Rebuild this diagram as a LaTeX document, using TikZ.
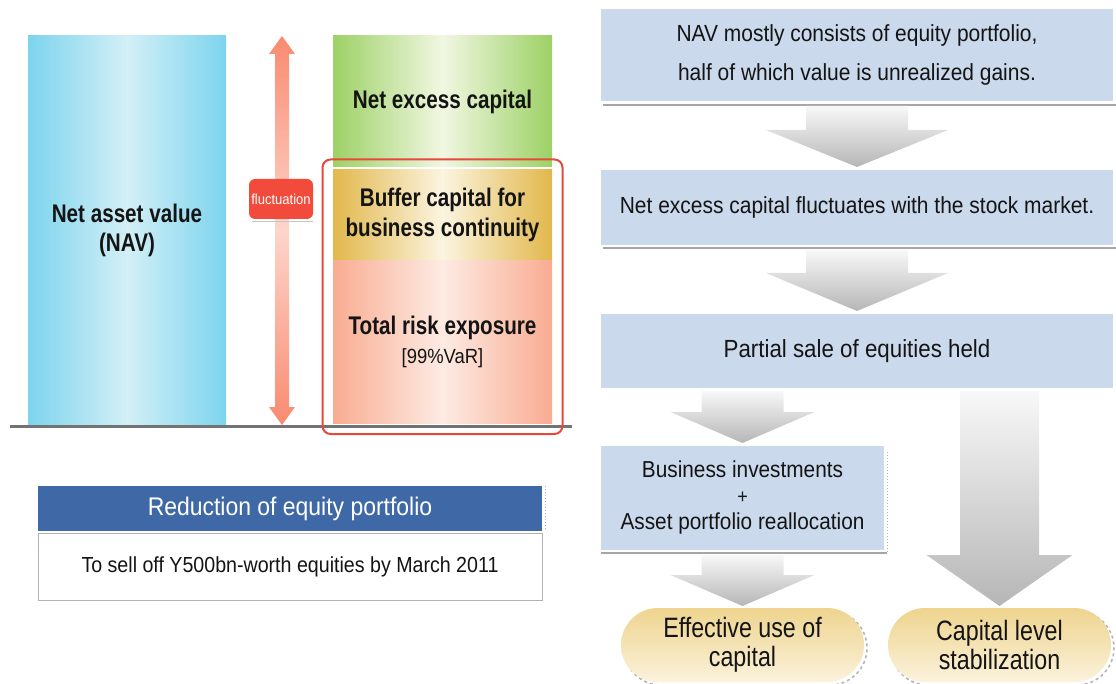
\documentclass[tikz,border=0pt]{standalone}
\usepackage{fontspec}
\setmainfont{Liberation Sans}[FakeStretch=0.9, BoldFeatures={FakeStretch=0.81}]
\newfontfamily\pillfont{Liberation Sans}[FakeStretch=0.83]
\usetikzlibrary{calc,fit,positioning,shapes.misc}

\definecolor{ink}{HTML}{141414}
\definecolor{navedge}{HTML}{7DD4EE}
\definecolor{navmid}{HTML}{D3EFF6}
\definecolor{greenedge}{HTML}{9DD166}
\definecolor{greenmid}{HTML}{F1F7E2}
\definecolor{goldedge}{HTML}{E2B84C}
\definecolor{goldmid}{HTML}{FBF4DF}
\definecolor{riskedge}{HTML}{F9AC92}
\definecolor{riskmid}{HTML}{FDEBE3}
\definecolor{framered}{HTML}{E8483A}
\definecolor{flred}{HTML}{F98A70}
\definecolor{fllight}{HTML}{FDD5CA}
\definecolor{tagred}{HTML}{F24B3B}
\definecolor{headblue}{HTML}{3F69A6}
\definecolor{flowblue}{HTML}{CBD9EC}
\definecolor{arrowtop}{HTML}{F8F8F8}
\definecolor{arrowbot}{HTML}{B6B6B6}
\definecolor{pilltop}{HTML}{EED48E}
\definecolor{pillbot}{HTML}{FBF2DC}

% block arrow pointing down: [opts]{top}{tip}{shaft half}{head half}{head length}
\newcommand{\flowarrow}[6][]{%
  \path[flow_arrow,#1] let \p1=(#2), \p2=(#3) in
    (\x1-#4,\y1) -- (\x1+#4,\y1) -- (\x1+#4,\y2+#6) -- (\x1+#5,\y2+#6)
    -- (\x1,\y2) -- (\x1-#5,\y2+#6) -- (\x1-#4,\y2+#6) -- cycle;}

\begin{document}
\begin{tikzpicture}[
    x=1pt, y=-1pt,
    every node/.style={inner sep=0pt, outer sep=0pt, text=ink},
    bar_col/.style={minimum width=219pt, align=center,
        font=\fontsize{25.5}{29.5}\selectfont\bfseries},
    risk_frame/.style={draw=framered, line width=2pt, rounded corners=8pt},
    base_line/.style={draw=gray!90!black, line width=3pt},
    flow_box/.style={fill=flowblue, minimum width=512pt, align=center,
        font=\fontsize{23.3}{39}\selectfont},
    pill_node/.style={rounded rectangle, minimum height=74pt, align=center,
        top color=pilltop, bottom color=pillbot,
        font=\pillfont\fontsize{28}{29}\selectfont},
    pill_shadow/.style={rounded rectangle, minimum height=74pt,
        draw=gray!60, dashed, line width=1.5pt},
    flow_arrow/.style={top color=arrowtop, bottom color=arrowbot},
    shadow_line/.style={draw=gray!70, line width=1.5pt}
]
\useasboundingbox (0,0) rectangle (1116,684);

% --- LEFT: capital bars ---
\node[bar_col, minimum width=198pt, minimum height=389pt,
      left color=navedge, right color=navedge, middle color=navmid]
      (nav) at (127,230.5) {Net asset value\\(NAV)};
\node[bar_col, minimum height=131pt,
      left color=greenedge, right color=greenedge, middle color=greenmid]
      (excess) at (442.5,101.5) {Net excess capital};
\node[bar_col, minimum height=90pt,
      left color=goldedge, right color=goldedge, middle color=goldmid]
      (buffer) at (442.5,215) {Buffer capital for\\business continuity};
\node[bar_col, minimum height=163pt,
      left color=riskedge, right color=riskedge, middle color=riskmid]
      (risk) at (442.5,342) {Total risk exposure\\{\fontsize{20.5}{22}\selectfont\mdseries [99\%VaR]}};

\draw[base_line] (10,426) -- (572,426);
\node[risk_frame, fit=(buffer)(risk), inner sep=10.5pt] (frame) {};

% fluctuation arrow
\coordinate (fl_top) at (282,36);
\coordinate (fl_bot) at (282,425);
\path[top color=flred, bottom color=flred, middle color=fllight]
  let \p1=(fl_top), \p2=(fl_bot) in
  (\x1,\y1) -- (\x1+13pt,\y1-18pt) -- (\x1+7pt,\y1-18pt) -- (\x1+7pt,\y2+18pt)
  -- (\x1+13pt,\y2+18pt) -- (\x1,\y2) -- (\x1-13pt,\y2+18pt) -- (\x1-7pt,\y2+18pt)
  -- (\x1-7pt,\y1-18pt) -- (\x1-13pt,\y1-18pt) -- cycle;
\node[fill=tagred, rounded corners=6pt, minimum width=64pt, minimum height=40pt,
      text=white, font=\fontsize{14.5}{16}\selectfont] (fluct) at (281,199) {fluctuation};
\draw[gray!45, line width=1pt] ([xshift=3pt,yshift=-3pt]fluct.south west) -- ([yshift=-3pt]fluct.south east);

% --- LEFT: reduction plan ---
\node[fill=headblue, minimum width=504pt, minimum height=45pt, text=white,
      font=\fontsize{25.5}{28}\selectfont] (reduce) at (290,508.5) {Reduction of equity portfolio};
\node[draw=gray!60, line width=1pt, fill=white, minimum width=504pt, minimum height=67pt,
      font=\fontsize{21.8}{25}\selectfont, below=2pt of reduce] (sell)
      {To sell off Y500bn-worth equities by March 2011};
\draw[gray!60, dotted, line width=1pt] ([xshift=3pt]reduce.north east) -- ([xshift=3pt]reduce.south east);

% --- RIGHT: flow ---
\node[flow_box, minimum height=92pt] (nav_box) at (857,55)
      {NAV mostly consists of equity portfolio,\\half of which value is unrealized gains.};
\node[flow_box, minimum height=75pt] (fluct_box) at (857,207.5)
      {Net excess capital fluctuates with the stock market.};
\node[flow_box, minimum height=74pt, font=\fontsize{24.8}{28}\selectfont] (sale_box) at (857,351)
      {Partial sale of equities held};
\node[flow_box, minimum width=283pt, minimum height=104pt,
      font=\fontsize{23.1}{26}\selectfont] (invest_box) at (742.5,498)
      {Business investments\\{\fontsize{20}{20}\selectfont +}\\Asset portfolio reallocation};

\draw[shadow_line] ([xshift=2pt,yshift=-4pt]nav_box.south west) -- ([xshift=3pt,yshift=-4pt]nav_box.south east);
\draw[shadow_line] ([xshift=2pt,yshift=-3pt]fluct_box.south west) -- ([xshift=3pt,yshift=-3pt]fluct_box.south east);
\draw[shadow_line] ([yshift=-3pt]invest_box.south west) -- ([xshift=3pt,yshift=-3pt]invest_box.south east);
\draw[gray!60, dotted, line width=1pt] ([xshift=3pt,yshift=-6pt]invest_box.north east) -- ([xshift=3pt,yshift=-3pt]invest_box.south east);

% results
\node[pill_shadow, minimum width=243pt] at (745.5,648) {};
\node[pill_node, minimum width=243pt] (effective) at (742.5,645) {Effective use of\\capital};
\node[pill_shadow, minimum width=223pt] at (1002.5,648) {};
\node[pill_node, minimum width=223pt] (stable) at (999.5,645) {Capital level\\stabilization};

% block arrows
\flowarrow{[yshift=-5pt]nav_box.south}{[yshift=3pt]fluct_box.north}{51pt}{91pt}{37pt}
\flowarrow{[yshift=-5pt]fluct_box.south}{[yshift=3pt]sale_box.north}{51pt}{91pt}{38pt}
\flowarrow{$(sale_box.south -| invest_box.north)+(0,3)$}{[yshift=3pt]invest_box.north}{41pt}{72pt}{31pt}
\flowarrow{[yshift=-5pt]invest_box.south}{[yshift=2pt]effective.north}{41pt}{72pt}{31pt}
\flowarrow{$(sale_box.south -| stable.north)+(0,3)$}{[yshift=2pt]stable.north}{39.5pt}{73pt}{51pt}

\end{tikzpicture}
\end{document}
